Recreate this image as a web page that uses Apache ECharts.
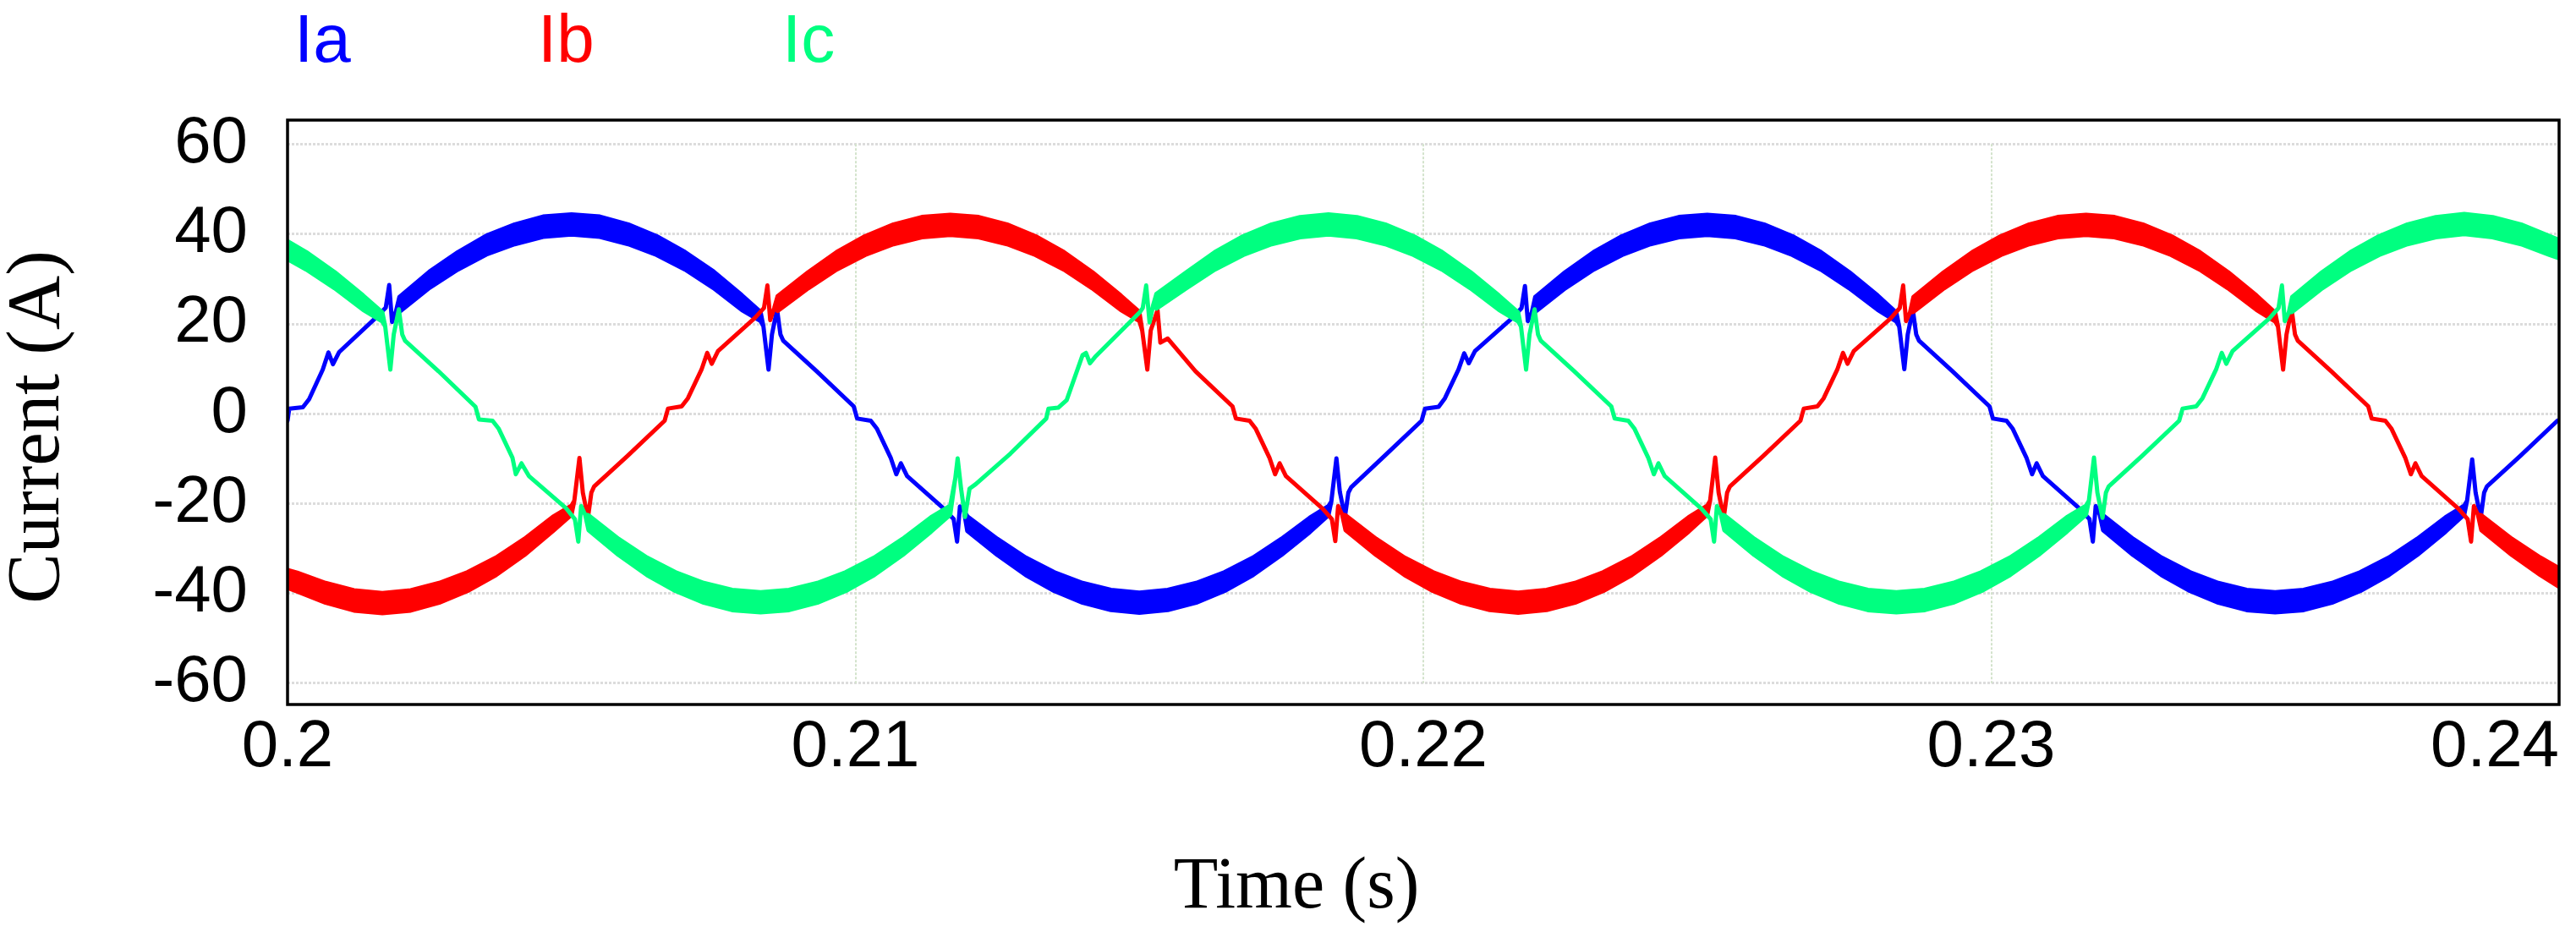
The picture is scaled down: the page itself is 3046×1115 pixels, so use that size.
<!DOCTYPE html>
<html>
<head>
<meta charset="utf-8">
<script src="https://cdn.jsdelivr.net/npm/echarts@6/dist/echarts.min.js"></script>
<style>
html,body{margin:0;padding:0;background:#fff;}
#chart{width:3046px;height:1115px;}
</style>
</head>
<body>
<div id="chart"></div>
<script>
// ---- tick values ----
const timeTicks = [0.20, 0.21, 0.22, 0.23, 0.24];
const currentTicks = [-60, -40, -20, 0, 20, 40, 60];
const phaseNames = ['Ia', 'Ib', 'Ic'];

// ---- phase currents: [time (s), mid value (A), ripple peak-to-peak (A)] ----
const ia = [
[0.20000,-1.6,0],[0.20003,1.1,0],[0.20027,1.4,0],[0.20038,3.2,0],[0.20062,9.8,0],[0.20072,13.6,0],[0.20080,11.0,0],[0.20091,13.7,0],[0.20156,21.4,0],
[0.20173,23.6,0],[0.20179,28.6,0],[0.20184,20.4,0],[0.20191,22.8,0],
[0.20197,24.3,3.3],[0.20250,29.8,3.6],[0.20300,34.0,3.9],[0.20350,37.5,4.2],[0.20400,39.9,4.4],[0.20450,41.6,4.5],[0.20500,42.1,4.5],[0.20550,41.6,4.5],[0.20600,39.9,4.4],[0.20650,37.4,4.2],[0.20700,34.0,3.9],[0.20750,29.8,3.7],[0.20800,24.7,3.3],[0.20833,21.6,2.0],
[0.20838,19.4,0],[0.20847,9.8,0],[0.20853,17.6,0],[0.20862,23.2,0],[0.20868,17.6,0],[0.20873,16.2,0],
[0.20932,9.4,0],[0.20997,1.6,0],[0.21003,-1.1,0],[0.21027,-1.6,0],[0.21038,-3.4,0],[0.21062,-9.8,0],[0.21072,-13.5,0],[0.21080,-11.1,0],[0.21091,-13.9,0],[0.21156,-21.2,0],
[0.21173,-23.5,0],[0.21179,-28.5,0],[0.21184,-20.7,0],[0.21191,-21.6,0],
[0.21197,-24.5,3.3],[0.21250,-29.7,3.6],[0.21300,-34.0,3.9],[0.21350,-37.4,4.2],[0.21400,-39.9,4.4],[0.21450,-41.5,4.5],[0.21500,-42.1,4.5],[0.21550,-41.5,4.5],[0.21600,-39.9,4.4],[0.21650,-37.4,4.2],[0.21700,-34.0,3.9],[0.21750,-29.7,3.6],[0.21800,-24.8,3.2],[0.21833,-21.6,2.0],
[0.21838,-19.6,0],[0.21847,-10.0,0],[0.21853,-17.4,0],[0.21862,-23.0,0],[0.21868,-17.6,0],[0.21873,-16.4,0],
[0.21932,-9.4,0],[0.21997,-1.6,0],[0.22003,1.1,0],[0.22027,1.5,0],[0.22038,3.4,0],[0.22062,9.8,0],[0.22072,13.4,0],[0.22080,11.2,0],[0.22091,13.9,0],[0.22156,21.2,0],
[0.22173,23.5,0],[0.22179,28.4,0],[0.22184,20.6,0],[0.22191,22.5,0],
[0.22197,24.3,3.3],[0.22250,29.7,3.6],[0.22300,34.0,3.9],[0.22350,37.4,4.2],[0.22400,39.9,4.4],[0.22450,41.5,4.5],[0.22500,42.0,4.5],[0.22550,41.5,4.5],[0.22600,39.9,4.4],[0.22650,37.4,4.2],[0.22700,34.0,3.9],[0.22750,29.7,3.6],[0.22800,24.7,3.2],[0.22833,21.5,2.0],
[0.22838,19.4,0],[0.22847,9.9,0],[0.22853,17.6,0],[0.22862,23.1,0],[0.22868,17.6,0],[0.22873,16.2,0],
[0.22932,9.4,0],[0.22997,1.6,0],[0.23003,-1.1,0],[0.23027,-1.6,0],[0.23038,-3.4,0],[0.23062,-9.8,0],[0.23072,-13.5,0],[0.23080,-11.1,0],[0.23091,-13.9,0],[0.23156,-21.2,0],
[0.23173,-23.5,0],[0.23179,-28.5,0],[0.23184,-20.6,0],[0.23191,-22.5,0],
[0.23197,-24.3,3.3],[0.23250,-29.7,3.6],[0.23300,-34.0,3.9],[0.23350,-37.4,4.2],[0.23400,-39.9,4.4],[0.23450,-41.5,4.5],[0.23500,-42.0,4.5],[0.23550,-41.5,4.5],[0.23600,-39.9,4.4],[0.23650,-37.4,4.2],[0.23700,-34.0,3.9],[0.23750,-29.7,3.6],[0.23800,-24.7,3.2],[0.23833,-21.5,2.0],
[0.23838,-19.4,0],[0.23847,-10.2,0],[0.23853,-17.6,0],[0.23862,-23.2,0],[0.23868,-17.6,0],[0.23873,-16.2,0],
[0.23932,-9.4,0],[0.23997,-1.6,0],[0.24000,-1.5,0]
];

const ib = [
[0.20000,-36.8,4.0],[0.20017,-37.5,4.2],[0.20067,-39.9,4.4],[0.20117,-41.6,4.5],[0.20167,-42.2,4.5],[0.20217,-41.6,4.5],[0.20267,-39.9,4.4],[0.20317,-37.4,4.2],[0.20367,-34.0,3.9],[0.20417,-29.7,3.6],[0.20467,-24.6,3.2],[0.20500,-21.5,2.0],
[0.20505,-19.4,0],[0.20514,-9.9,0],[0.20520,-17.6,0],[0.20529,-23.2,0],[0.20535,-17.6,0],[0.20540,-16.2,0],
[0.20599,-9.4,0],[0.20664,-1.6,0],[0.20670,1.1,0],[0.20694,1.6,0],[0.20705,3.4,0],[0.20729,9.8,0],[0.20739,13.5,0],[0.20747,11.1,0],[0.20758,13.9,0],[0.20823,21.3,0],
[0.20839,23.5,0],[0.20845,28.5,0],[0.20850,20.8,0],[0.20857,23.5,0],
[0.20863,24.5,3.3],[0.20917,29.7,3.6],[0.20967,34.0,3.9],[0.21017,37.4,4.2],[0.21067,39.9,4.4],[0.21117,41.5,4.5],[0.21167,42.0,4.5],[0.21217,41.5,4.5],[0.21267,39.9,4.4],[0.21317,37.4,4.2],[0.21367,34.0,3.9],[0.21417,29.7,3.6],[0.21467,24.7,3.2],[0.21500,21.6,2.0],
[0.21505,18.5,0],[0.21514,9.8,0],[0.21520,18.5,0],[0.21532,23.0,0],[0.21537,15.8,0],[0.21550,16.7,0],
[0.21599,9.4,0],[0.21664,1.6,0],[0.21670,-1.1,0],[0.21694,-1.6,0],[0.21705,-3.4,0],[0.21729,-9.8,0],[0.21739,-13.5,0],[0.21747,-11.1,0],[0.21758,-13.9,0],[0.21823,-21.2,0],
[0.21839,-23.5,0],[0.21845,-28.4,0],[0.21850,-20.6,0],[0.21857,-22.5,0],
[0.21863,-24.3,3.3],[0.21917,-29.7,3.6],[0.21967,-34.0,3.9],[0.22017,-37.4,4.2],[0.22067,-39.9,4.4],[0.22117,-41.5,4.5],[0.22167,-42.1,4.5],[0.22217,-41.5,4.5],[0.22267,-39.9,4.4],[0.22317,-37.4,4.2],[0.22367,-34.0,3.9],[0.22417,-29.7,3.6],[0.22467,-24.7,3.2],[0.22500,-21.5,2.0],
[0.22505,-19.4,0],[0.22514,-9.8,0],[0.22520,-17.6,0],[0.22529,-23.2,0],[0.22535,-17.6,0],[0.22540,-16.2,0],
[0.22599,-9.4,0],[0.22664,-1.6,0],[0.22670,1.1,0],[0.22694,1.6,0],[0.22705,3.4,0],[0.22729,9.8,0],[0.22739,13.5,0],[0.22747,11.1,0],[0.22758,13.9,0],[0.22823,21.2,0],
[0.22839,23.5,0],[0.22845,28.5,0],[0.22850,20.6,0],[0.22857,22.5,0],
[0.22863,24.3,3.3],[0.22917,29.7,3.6],[0.22967,34.0,3.9],[0.23017,37.4,4.2],[0.23067,39.9,4.4],[0.23117,41.5,4.5],[0.23167,42.0,4.5],[0.23217,41.5,4.5],[0.23267,39.9,4.4],[0.23317,37.4,4.2],[0.23367,34.0,3.9],[0.23417,29.7,3.6],[0.23467,24.7,3.2],[0.23500,21.5,2.0],
[0.23505,19.4,0],[0.23514,9.8,0],[0.23520,17.6,0],[0.23529,23.2,0],[0.23535,17.6,0],[0.23540,16.2,0],
[0.23599,9.4,0],[0.23664,1.6,0],[0.23670,-1.1,0],[0.23694,-1.6,0],[0.23705,-3.4,0],[0.23729,-9.8,0],[0.23739,-13.5,0],[0.23747,-11.1,0],[0.23758,-13.9,0],[0.23823,-21.2,0],
[0.23839,-23.5,0],[0.23845,-28.5,0],[0.23850,-20.6,0],[0.23857,-22.5,0],
[0.23863,-24.3,3.3],[0.23917,-29.7,3.6],[0.23967,-34.0,3.9],[0.24000,-36.5,4.1]
];

const ic = [
[0.20000,36.4,4.0],[0.20033,34.0,3.9],[0.20083,29.7,3.6],[0.20133,24.7,3.2],[0.20167,21.5,2.0],
[0.20172,19.4,0],[0.20181,9.8,0],[0.20187,17.6,0],[0.20196,23.2,0],[0.20202,17.6,0],[0.20207,16.2,0],
[0.20266,9.4,0],[0.20331,1.5,0],[0.20337,-1.3,0],[0.20361,-1.6,0],[0.20372,-3.4,0],[0.20396,-9.8,0],[0.20402,-13.5,0],[0.20412,-11.1,0],[0.20425,-13.9,0],[0.20490,-21.0,0],
[0.20506,-23.5,0],[0.20512,-28.5,0],[0.20517,-20.6,0],[0.20524,-22.5,0],
[0.20530,-24.3,3.3],[0.20583,-29.7,3.6],[0.20633,-34.0,3.9],[0.20683,-37.4,4.2],[0.20733,-39.9,4.4],[0.20783,-41.5,4.5],[0.20833,-42.0,4.5],[0.20883,-41.5,4.5],[0.20933,-39.9,4.4],[0.20983,-37.4,4.2],[0.21033,-34.0,3.9],[0.21083,-29.7,3.6],[0.21133,-24.7,3.2],[0.21167,-21.5,2.0],
[0.21176,-14.3,0],[0.21180,-10.0,0],[0.21186,-16.7,0],[0.21193,-23.0,0],[0.21201,-16.7,0],[0.21212,-15.7,0],
[0.21273,-8.9,0],[0.21336,-1.1,0],[0.21340,1.1,0],[0.21357,1.3,0],[0.21372,3.0,0],[0.21400,13.0,0],[0.21406,13.5,0],[0.21413,11.2,0],[0.21422,12.6,0],[0.21501,22.6,0],
[0.21506,23.5,0],[0.21512,28.5,0],[0.21518,20.3,0],[0.21524,24.0,0],
[0.21530,25.0,3.3],[0.21583,29.7,3.6],[0.21633,34.0,3.9],[0.21683,37.4,4.2],[0.21733,39.9,4.4],[0.21783,41.5,4.5],[0.21833,42.1,4.5],[0.21883,41.5,4.5],[0.21933,39.9,4.4],[0.21983,37.4,4.2],[0.22033,34.0,3.9],[0.22083,29.7,3.6],[0.22133,24.7,3.2],[0.22167,21.5,2.0],
[0.22172,19.4,0],[0.22181,9.8,0],[0.22187,17.6,0],[0.22196,23.2,0],[0.22202,17.6,0],[0.22207,16.2,0],
[0.22266,9.4,0],[0.22331,1.6,0],[0.22337,-1.1,0],[0.22361,-1.6,0],[0.22372,-3.4,0],[0.22396,-9.8,0],[0.22406,-13.5,0],[0.22414,-11.1,0],[0.22425,-13.9,0],[0.22490,-21.2,0],
[0.22506,-23.5,0],[0.22512,-28.5,0],[0.22517,-20.6,0],[0.22524,-22.5,0],
[0.22530,-24.3,3.3],[0.22583,-29.7,3.6],[0.22633,-34.0,3.9],[0.22683,-37.4,4.2],[0.22733,-39.9,4.4],[0.22783,-41.5,4.5],[0.22833,-42.0,4.5],[0.22883,-41.5,4.5],[0.22933,-39.9,4.4],[0.22983,-37.4,4.2],[0.23033,-34.0,3.9],[0.23083,-29.7,3.6],[0.23133,-24.7,3.2],[0.23167,-21.5,2.0],
[0.23172,-19.4,0],[0.23181,-9.8,0],[0.23187,-17.6,0],[0.23196,-23.2,0],[0.23202,-17.6,0],[0.23207,-16.2,0],
[0.23266,-9.4,0],[0.23331,-1.6,0],[0.23337,1.1,0],[0.23361,1.6,0],[0.23372,3.4,0],[0.23396,9.8,0],[0.23406,13.5,0],[0.23414,11.1,0],[0.23425,13.9,0],[0.23490,21.2,0],
[0.23506,23.5,0],[0.23512,28.5,0],[0.23517,20.6,0],[0.23524,22.5,0],
[0.23530,24.3,3.3],[0.23583,29.7,3.6],[0.23633,34.0,3.9],[0.23683,37.4,4.2],[0.23733,39.9,4.4],[0.23783,41.5,4.5],[0.23833,42.2,4.5],[0.23883,41.5,4.5],[0.23933,39.9,4.4],[0.23983,37.4,4.2],[0.24000,36.6,4.1]
];

const phaseColors = ['#0000ff', '#ff0000', '#00ff80'];
const STROKE = 5;            // px stroke of each trace
const LABEL_FONT = 'Liberation Sans, Arial, sans-serif';

function toEnvelope(rows) {
  return rows.map(function (r) {
    const h = r[2] / 2;
    return [r[0], r[1] - h, r[1] + h];
  });
}

function bandRenderer(color) {
  return function (params, api) {
    if (params.dataIndexInside !== 0) return null;
    const n = params.dataInsideLength;
    const lower = [], upper = [];
    for (let i = 0; i < n; i++) {
      const t = api.value(0, i);
      lower.push(api.coord([t, api.value(1, i)]));
      upper.push(api.coord([t, api.value(2, i)]));
    }
    return {
      type: 'polygon',
      shape: { points: lower.concat(upper.reverse()) },
      style: { fill: color, stroke: color, lineWidth: STROKE, lineJoin: 'round' }
    };
  };
}

const phases = [ia, ib, ic];
const tMax = timeTicks[timeTicks.length - 1];
const chart = echarts.init(document.getElementById('chart'), null, { renderer: 'canvas' });

const option = {
  backgroundColor: '#ffffff',
  animation: false,
  grid: { left: 340, right: 20, top: 170.3, bottom: 307.3, containLabel: false, outerBoundsMode: 'none' },
  xAxis: {
    type: 'value',
    min: timeTicks[0],
    max: tMax,
    interval: timeTicks[1] - timeTicks[0],
    axisLine: { show: false },
    axisTick: { show: false },
    splitLine: { show: true, lineStyle: { color: '#d3e3cc', width: 2, type: [3, 2] } },
    axisLabel: {
      fontFamily: LABEL_FONT, fontSize: 78, color: '#000',
      margin: 77, verticalAlign: 'middle',
      formatter: function (v) {
        const s = String(Math.round(v * 100) / 100);
        return Math.abs(v - tMax) < 1e-9 ? '{last|' + s + '}' : s;
      },
      rich: { last: { fontFamily: LABEL_FONT, fontSize: 78, color: '#000', padding: [0, 152, 0, 0] } }
    }
  },
  yAxis: {
    type: 'value',
    min: currentTicks[0],
    max: currentTicks[currentTicks.length - 1],
    interval: currentTicks[1] - currentTicks[0],
    axisLine: { show: false },
    axisTick: { show: false },
    splitLine: { show: true, lineStyle: { color: '#dcdcdc', width: 3, type: [3, 2] } },
    axisLabel: { fontFamily: LABEL_FONT, fontSize: 78, color: '#000', margin: 47 }
  },
  series: phases.map(function (rows, k) {
    return {
      name: phaseNames[k],
      type: 'custom',
      clip: true,
      renderItem: bandRenderer(phaseColors[k]),
      encode: { x: 0, y: [1, 2] },
      data: toEnvelope(rows),
      z: 2 + k
    };
  }),
  graphic: [
    { type: 'rect', z: 100, shape: { x: 340, y: 142, width: 2686, height: 691 },
      style: { fill: 'none', stroke: '#000', lineWidth: 3.5 } },
    { type: 'text', z: 100, x: 348, y: 51, style: { text: phaseNames[0], fill: phaseColors[0],
      font: '80px "Liberation Sans Narrow", "Liberation Sans", Arial, sans-serif', align: 'left', verticalAlign: 'middle' } },
    { type: 'text', z: 100, x: 636, y: 51, style: { text: phaseNames[1], fill: phaseColors[1],
      font: '80px "Liberation Sans Narrow", "Liberation Sans", Arial, sans-serif', align: 'left', verticalAlign: 'middle' } },
    { type: 'text', z: 100, x: 925, y: 51, style: { text: phaseNames[2], fill: phaseColors[2],
      font: '80px "Liberation Sans Narrow", "Liberation Sans", Arial, sans-serif', align: 'left', verticalAlign: 'middle' } },
    { type: 'text', z: 100, x: 1533, y: 1050, style: { text: 'Time (s)', fill: '#000',
      font: '86px "Liberation Serif", "Times New Roman", serif', align: 'center', verticalAlign: 'middle' } },
    { type: 'text', z: 100, x: 46, y: 505, rotation: Math.PI / 2, style: { text: 'Current (A)', fill: '#000',
      font: '89px "Liberation Serif", "Times New Roman", serif', align: 'center', verticalAlign: 'middle' } }
  ]
};
chart.setOption(option);
</script>
</body>
</html>
